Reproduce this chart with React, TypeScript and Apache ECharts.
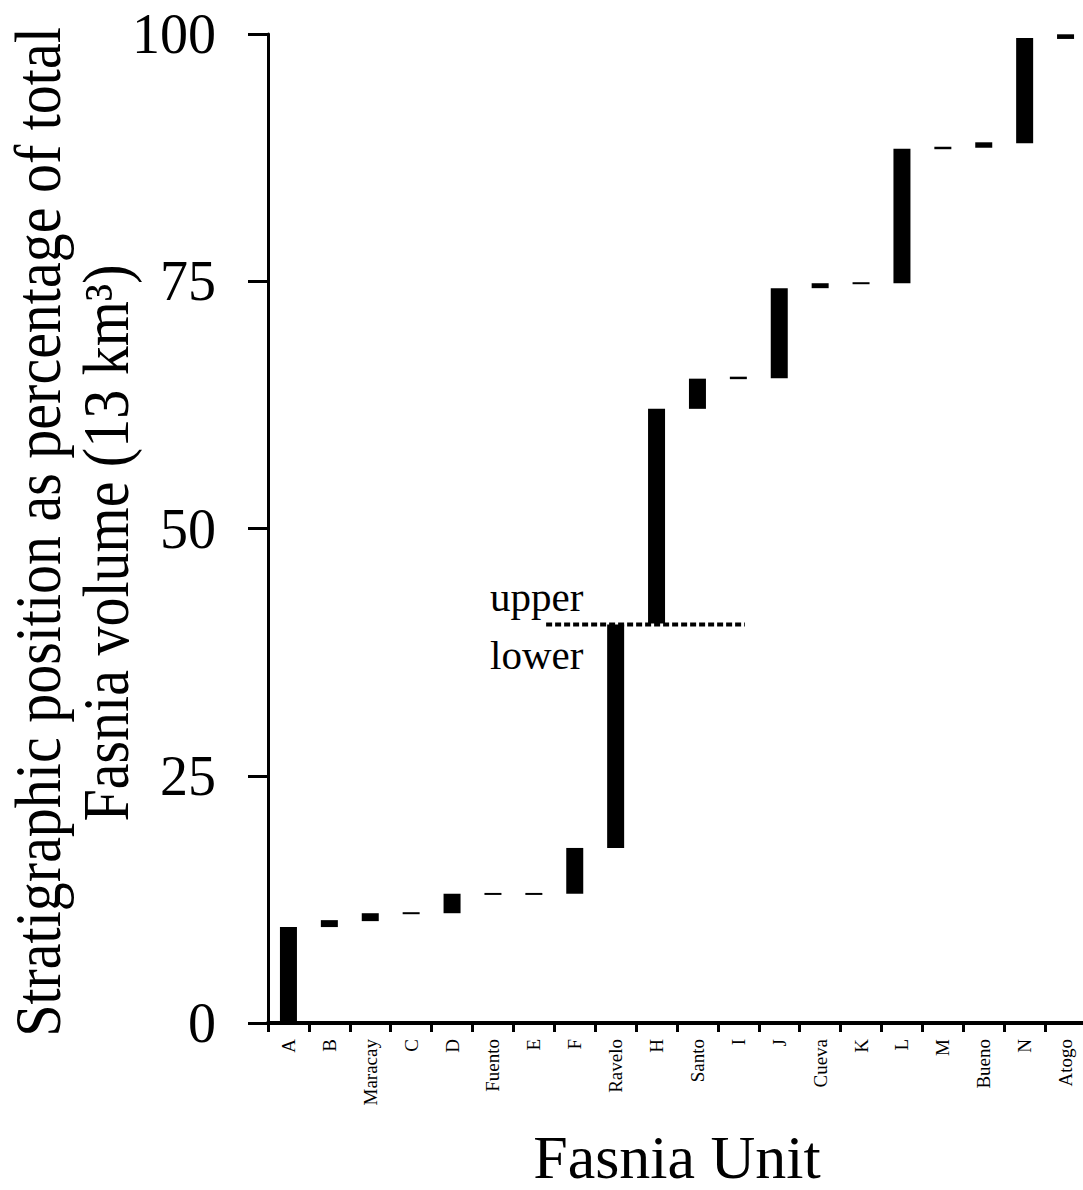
import React, { useEffect, useRef } from "react";
import * as echarts from "echarts";

const categories = ["A", "B", "Maracay", "C", "D", "Fuento", "E", "F", "Ravelo", "H", "Santo", "I", "J", "Cueva", "K", "L", "M", "Bueno", "N", "Atogo"];
const bottoms = [0, 9.7, 10.3, 11.0, 11.1, 12.95, 12.95, 13.07, 17.7, 40.4, 62.1, 65.1, 65.2, 74.3, 74.7, 74.8, 88.35, 88.5, 88.95, 99.5];
const tops = [9.7, 10.4, 11.1, 11.2, 13.07, 13.15, 13.15, 17.7, 40.3, 62.1, 65.15, 65.35, 74.3, 74.8, 74.9, 88.4, 88.6, 89.05, 99.6, 99.97];
const yTicks = { min: 0, max: 100, interval: 25 };
const dividerX = [6.8, 11.66];
const dividerY = 40.3;
const dividerLabels = ["upper", "lower"];
const yTitleLines = ["Stratigraphic position as percentage of total", "Fasnia volume (13 km³)"];
const xTitle = "Fasnia Unit";

const FONT = "'Liberation Serif', 'Times New Roman', serif";

function rotatedText(text: string, x: number, y: number) {
  return {
    type: "text",
    x,
    y,
    rotation: Math.PI / 2,
    scaleY: 1.12,
    style: {
      text,
      font: `58px ${FONT}`,
      fill: "#000",
      align: "center",
      verticalAlign: "middle",
      textAlign: "center",
      textVerticalAlign: "middle",
    },
  };
}

export default function App() {
  const ref = useRef<HTMLDivElement>(null);
  useEffect(() => {
    if (!ref.current) return;
    const chart = echarts.init(ref.current, undefined, { renderer: "svg" });
    const lengths = tops.map((t, i) => Math.round((t - bottoms[i]) * 1000) / 1000);
    chart.setOption({
      animation: false,
      backgroundColor: "#ffffff",
      textStyle: { fontFamily: FONT, color: "#000" },
      grid: { left: 268, top: 34, width: 818, height: 989, containLabel: false, outerBoundsMode: "none" },
      xAxis: [
        {
          type: "category",
          data: categories,
          name: xTitle,
          nameLocation: "middle",
          nameGap: 109,
          nameTextStyle: { fontFamily: FONT, fontSize: 62, lineHeight: 50, color: "#000" },
          axisLine: { show: true, lineStyle: { color: "#000", width: 4 } },
          axisTick: { show: true, interval: 0, length: 9, lineStyle: { color: "#000", width: 3 } },
          axisLabel: { interval: 0, rotate: 90, fontSize: 19, margin: 16, color: "#000", fontFamily: FONT },
          splitLine: { show: false },
        },
        {
          type: "value",
          min: 0,
          max: categories.length,
          show: false,
        },
      ],
      yAxis: {
        type: "value",
        min: yTicks.min,
        max: yTicks.max,
        interval: yTicks.interval,
        axisLine: { show: true, lineStyle: { color: "#000", width: 3 } },
        axisTick: { show: true, length: 20, lineStyle: { color: "#000", width: 3 } },
        axisLabel: { fontSize: 56, margin: 52, color: "#000", fontFamily: FONT },
        splitLine: { show: false },
      },
      series: [
        {
          type: "bar",
          stack: "range",
          data: bottoms,
          barWidth: 17,
          itemStyle: { color: "rgba(0,0,0,0)" },
          silent: true,
        },
        {
          type: "bar",
          stack: "range",
          data: lengths,
          barWidth: 17,
          barMinHeight: 2,
          itemStyle: { color: "#000" },
        },
        {
          type: "line",
          xAxisIndex: 1,
          data: dividerX.map((x) => [x, dividerY]),
          symbol: "none",
          lineStyle: { color: "#000", width: 4, type: [6, 3] },
          z: 5,
        },
      ],
      graphic: [
        rotatedText(yTitleLines[0], 38, 532),
        rotatedText(yTitleLines[1], 106, 543),
        {
          type: "text",
          left: 490,
          top: 576,
          style: { text: dividerLabels[0], font: `41px ${FONT}`, fill: "#000" },
        },
        {
          type: "text",
          left: 490,
          top: 634,
          style: { text: dividerLabels[1], font: `41px ${FONT}`, fill: "#000" },
        },
      ],
    });
    return () => chart.dispose();
  }, []);
  return <div ref={ref} style={{ position: "absolute", left: 0, top: 0, width: 1083, height: 1190 }} />;
}
